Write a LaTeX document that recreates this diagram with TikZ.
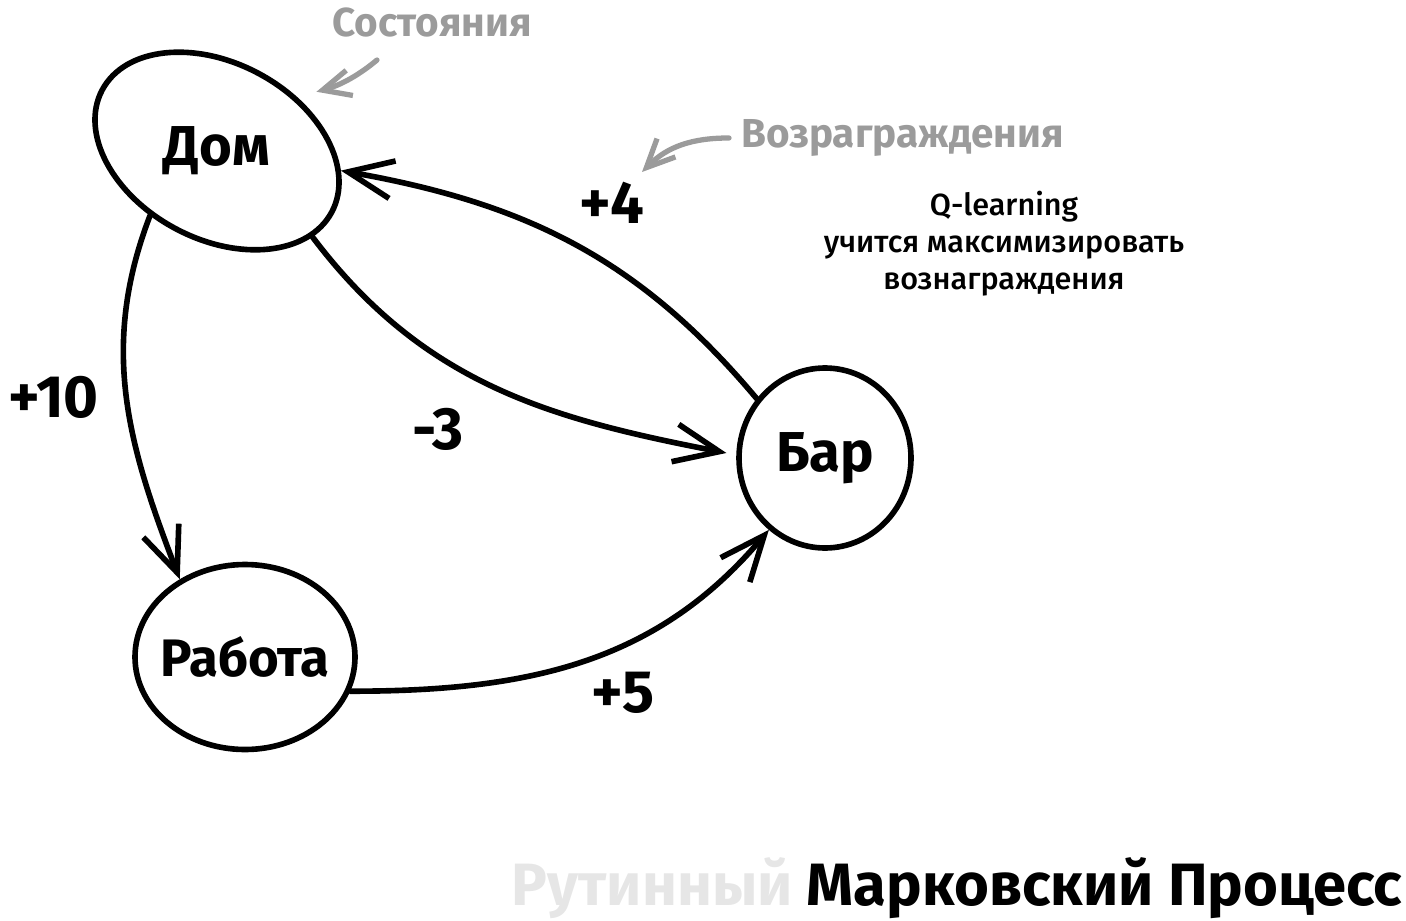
\documentclass[tikz,border=0pt]{standalone}
\usepackage{fontspec}
\setmainfont{Fira Sans}
\newfontfamily\notefont{Fira Sans Medium}
\usetikzlibrary{arrows.meta, shapes.geometric}
\definecolor{notegray}{RGB}{155,155,155}
\definecolor{fadegray}{RGB}{230,230,230}

\begin{document}
\begin{tikzpicture}[
    state/.style={ellipse, draw, line width=1.6pt, inner xsep=-3mm, inner ysep=0pt, font=\fontsize{16}{19}\selectfont\bfseries},
    reward/.style={inner sep=0pt, font=\fontsize{17}{20}\selectfont\bfseries},
    edge/.style={line width=1.6pt, line cap=round, -{Straight Barb[length=4.5mm, width=3.8mm]}},
    note/.style={notegray, line width=1.5pt, line cap=round, -{Straight Barb[length=2.8mm, width=2.6mm]}},
    notetext/.style={notegray, font=\fontsize{11.5}{14}\selectfont\bfseries}
]
    \useasboundingbox (0,0) rectangle (14.06,-9.21);

    % States
    \node (dom) [state, rotate=-28, minimum width=2.6cm, minimum height=1.76cm] at (2.17,-1.51) {\rotatebox{28}{Дом}};
    \node (rabota) [state, minimum width=2.2cm, minimum height=1.85cm, font=\fontsize{15}{18}\selectfont\bfseries] at (2.45,-6.57) {Работа};
    \node (bar) [state, minimum width=1.72cm, minimum height=1.8cm] at (8.25,-4.58) {Бар};

    % Transitions with rewards
    \draw[edge] (dom.-108) to[out=-111, in=111] node[reward, pos=0.5, left=0.25cm] (plus10) {+10} (rabota.130);
    \draw[edge, shorten >=1mm] (dom.-14) to[out=-53, in=169] node[reward, pos=0.35, below=0.5cm] (minus3) {-3} (bar.178);
    \draw[edge] (bar.139) to[out=130, in=-10] node[reward, pos=0.4, above=0.4cm] (plus4) {+4} (dom.19);
    \draw[edge] (rabota.-18) to[out=0, in=-130] node[reward, pos=0.6, below=0.25cm] (plus5) {+5} (bar.-128);

    % Notes
    \node (sost) [notetext] at (4.32,-0.22) {Состояния};
    \coordinate (sostTail) at (3.77,-0.60);
    \draw[note, shorten >=2mm] (sostTail) to[out=-140, in=15] (dom.62);

    \node (vozn) [notetext, anchor=west] at (7.29,-1.38) {Возраграждения};
    \coordinate (voznTip) at (6.42,-1.72);
    \draw[note] (vozn.west) to[out=180, in=45] (voznTip);

    \node (qlearn) [align=center, font=\fontsize{8.7}{10.5}\selectfont\notefont] at (10.04,-2.44) {Q-learning\\учится максимизировать\\вознаграждения};

    % Title
    \node (title) [anchor=base east, inner sep=0pt, font=\fontsize{17}{20}\selectfont\bfseries] at (14.03,-9.05) {\textcolor{fadegray}{Рутинный} Марковский Процесс};
\end{tikzpicture}
\end{document}
